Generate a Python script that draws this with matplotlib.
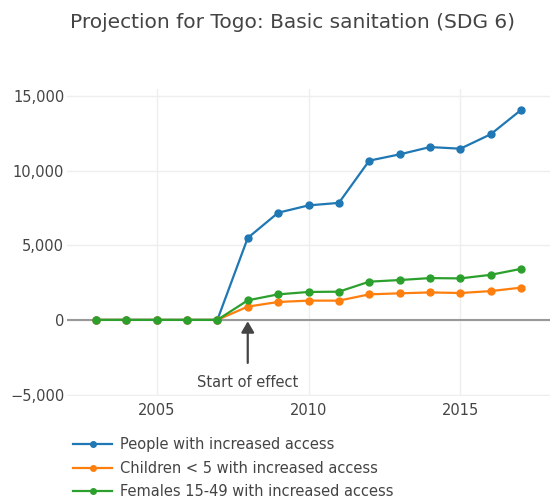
import matplotlib
matplotlib.use("Agg")
import matplotlib.pyplot as plt
from matplotlib.ticker import FuncFormatter

years = [2003, 2004, 2005, 2006, 2007, 2008, 2009, 2010, 2011, 2012, 2013, 2014, 2015, 2016, 2017]
people = [0, 0, 0, 0, 0, 5490, 7180, 7670, 7840, 10670, 11090, 11580, 11470, 12440, 14070]
children = [0, 0, 0, 0, 0, 890, 1200, 1290, 1290, 1710, 1780, 1840, 1800, 1930, 2160]
females = [0, 0, 0, 0, 0, 1310, 1710, 1870, 1890, 2560, 2670, 2800, 2780, 3020, 3420]
labels = ["People with increased access",
          "Children < 5 with increased access",
          "Females 15-49 with increased access"]
colors = ["#1f77b4", "#ff7f0e", "#2ca02c"]
title = "Projection for Togo: Basic sanitation (SDG 6)"
annot_text = "Start of effect"
annot_year = 2008

plt.rcParams['font.family'] = ['DejaVu Sans']
TXT = "#444444"

fig = plt.figure(figsize=(5.5, 5.01), dpi=100)
ax = fig.add_axes([67/550, 1-396/501, 1-67/550, (396-89)/501])

handles = []
for vals, lab, col in zip([people, children, females], labels, colors):
    h, = ax.plot(years, vals, color=col, lw=1.6, marker='o', ms=5, label=lab, zorder=3)
    handles.append(h)

ax.set_xlim(2002.05, 2017.95)
ax.set_ylim(-5100, 15470)
ax.set_xticks([2005, 2010, 2015])
ax.set_yticks([-5000, 0, 5000, 10000, 15000])
ax.yaxis.set_major_formatter(FuncFormatter(lambda v, p: f"{int(v):,}".replace('-', '\u2212')))
ax.grid(True, color="#eeeeee", lw=1)
ax.set_axisbelow(True)
ax.axhline(0, color="#999999", lw=1.5, zorder=2)
for s in ax.spines.values():
    s.set_visible(False)
ax.tick_params(length=0, colors=TXT, labelsize=10.5, pad=2)
ax.tick_params(axis='x', pad=5)

ax.annotate(annot_text, xy=(annot_year, 0), xycoords='data',
            xytext=(0, -63), textcoords='offset pixels',
            ha='center', va='center', color=TXT, fontsize=10.5,
            arrowprops=dict(arrowstyle='-|>,head_length=0.6,head_width=0.35', color=TXT, lw=1.6,
                            shrinkA=7, shrinkB=1, mutation_scale=11))

fig.text(293/550, 1-22/501, title, ha='center', va='center', color=TXT, fontsize=14.5)

fig.legend(handles=handles, labels=labels, loc='upper left',
           bbox_to_anchor=(73/550, 1-437/501), frameon=False,
           fontsize=10.5, labelcolor=TXT, handlelength=2.7, handletextpad=0.5,
           labelspacing=0.6, borderaxespad=0, borderpad=0, markerscale=0.8)

fig.savefig("out.png", dpi=100)
